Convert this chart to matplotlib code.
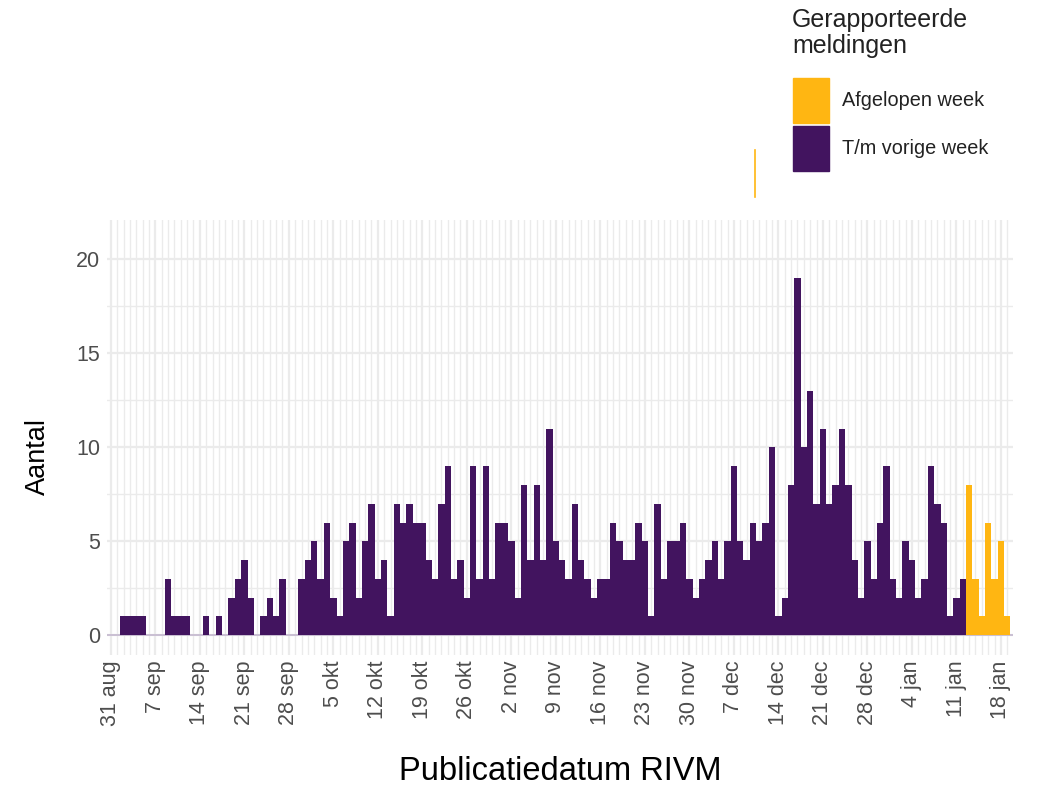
import matplotlib
matplotlib.use("Agg")
import matplotlib.pyplot as plt
import matplotlib.patches as mpatches
import matplotlib.lines as mlines
import numpy as np
import pandas as pd

plt.rcParams.update({
    "font.family": ["Liberation Sans", "DejaVu Sans"],
    "font.size": 14,
})

PURPLE = "#42145F"
ORANGE = "#FFB612"
GRID = "#EBEBEB"

# daily reported counts, 31 aug .. 12 jan (T/m vorige week)
prev_weeks = [
    0, 0, 1, 1, 1, 1, 0, 0, 0, 3, 1, 1, 1, 0, 0, 1, 0, 1, 0, 2, 3, 4, 2, 0,
    1, 2, 1, 3, 0, 0, 3, 4, 5, 3, 6, 2, 1, 5, 6, 2, 5, 7, 3, 4, 1, 7, 6, 7,
    6, 6, 4, 3, 7, 9, 3, 4, 2, 9, 3, 9, 3, 6, 6, 5, 2, 8, 4, 8, 4, 11, 5, 4,
    3, 7, 4, 3, 2, 3, 3, 6, 5, 4, 4, 6, 5, 1, 7, 3, 5, 5, 6, 3, 2, 3, 4, 5,
    3, 5, 9, 5, 4, 6, 5, 6, 10, 1, 2, 8, 19, 10, 13, 7, 11, 7, 8, 11, 8, 4, 2, 5,
    3, 6, 9, 3, 2, 5, 4, 2, 3, 9, 7, 6, 1, 2, 3,
]
# 13 jan .. 19 jan (Afgelopen week)
last_week = [8, 3, 1, 6, 3, 5, 1]

start = pd.Timestamp("2020-08-31")
dates_prev = pd.date_range(start, periods=len(prev_weeks), freq="D")
dates_last = pd.date_range(dates_prev[-1] + pd.Timedelta(days=1), periods=len(last_week), freq="D")

tick_labels = ["31 aug", "7 sep", "14 sep", "21 sep", "28 sep", "5 okt", "12 okt",
               "19 okt", "26 okt", "2 nov", "9 nov", "16 nov", "23 nov", "30 nov",
               "7 dec", "14 dec", "21 dec", "28 dec", "4 jan", "11 jan", "18 jan"]
tick_dates = pd.date_range(start, periods=len(tick_labels), freq="7D")

fig = plt.figure(figsize=(10.38, 7.87), dpi=100)
ax = fig.add_axes([107 / 1038, 1 - 655 / 787, (1013 - 107) / 1038, (655 - 220) / 787])

ax.bar(dates_prev, prev_weeks, width=1.0, color=PURPLE, linewidth=0, zorder=3)
ax.bar(dates_last, last_week, width=1.0, color=ORANGE, linewidth=0, zorder=3)
ax.axhline(0, color="#C4B8CF", lw=1.2, zorder=2)

ax.set_xlim(start - pd.Timedelta(days=0.6), start + pd.Timedelta(days=141.9))
ax.set_ylim(-1.05, 22.1)

ax.set_xticks(tick_dates)
ax.set_xticklabels(tick_labels, rotation=90, ha="center", va="top")
ax.set_xticks(pd.date_range(start, dates_last[-1], freq="D"), minor=True)
ax.set_yticks([0, 5, 10, 15, 20])
ax.set_yticks([2.5, 7.5, 12.5, 17.5], minor=True)

ax.grid(True, which="major", color=GRID, lw=1.6, zorder=0)
ax.grid(True, which="minor", color=GRID, lw=1.0, zorder=0)
ax.tick_params(which="both", length=0)
ax.tick_params(axis="x", labelsize=15.5, labelcolor="#4D4D4D", pad=4)
ax.tick_params(axis="y", labelsize=15.5, labelcolor="#4D4D4D", pad=5)
for s in ax.spines.values():
    s.set_visible(False)

ax.set_xlabel("Publicatiedatum RIVM", fontsize=23.5, color="black")
ax.xaxis.set_label_coords(0.5, -0.232)
ax.set_ylabel("Aantal", fontsize=19.5, color="black")
ax.yaxis.set_label_coords(-0.062, 0.457)

# legend (placed above the panel, top right)
fig.text(792 / 1038, 1 - 8 / 787, "Gerapporteerde\nmeldingen", fontsize=18,
         color="#222222", ha="left", va="top", linespacing=1.1)
fig.patches.append(mpatches.Rectangle((793 / 1038, 1 - 123 / 787), 36 / 1038, 45 / 787,
                                      transform=fig.transFigure, color=ORANGE))
fig.patches.append(mpatches.Rectangle((793 / 1038, 1 - 171 / 787), 36 / 1038, 45 / 787,
                                      transform=fig.transFigure, color=PURPLE))
fig.text(842 / 1038, 1 - 101 / 787, "Afgelopen week", fontsize=14.3, color="#222222",
         ha="left", va="center")
fig.text(842 / 1038, 1 - 149 / 787, "T/m vorige week", fontsize=14.3, color="#222222",
         ha="left", va="center")
fig.lines.append(mlines.Line2D([754.5 / 1038, 754.5 / 1038], [1 - 150 / 787, 1 - 197 / 787],
                               transform=fig.transFigure, color=ORANGE, lw=1.2))

fig.savefig("out.png", dpi=100)
